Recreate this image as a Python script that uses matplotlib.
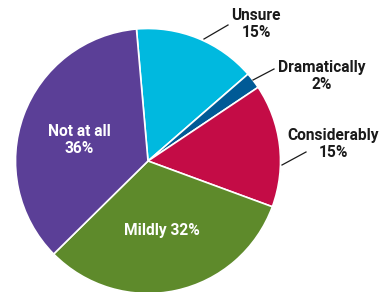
import numpy as np
import matplotlib
matplotlib.use("Agg")
from matplotlib import pyplot as plt

labels = ["Unsure", "Dramatically", "Considerably", "Mildly", "Not at all"]
values = [15, 2, 15, 32, 36]
colors = ["#00b9df", "#005a96", "#c40c46", "#5e8a2b", "#5b3f97"]

W, H = 380, 292

if __name__ == "__main__":
    plt.rcParams['font.family'] = ['Roboto', 'DejaVu Sans']
    fig = plt.figure(figsize=(W / 100, H / 100), dpi=100)
    ax = fig.add_axes([0, 0, 1, 1])

    cx, cy, r = 148, 161, 132.5
    wedges, _ = ax.pie(values, colors=colors, startangle=95, counterclock=False,
                       center=(cx, H - cy), radius=r,
                       wedgeprops=dict(edgecolor="white", linewidth=1.2))
    ax.set_xlim(0, W)
    ax.set_ylim(0, H)
    ax.set_aspect("equal")
    ax.axis("off")

    def px(x, y):
        return (x, H - y)

    fs = 11.2
    # outside labels: (text centre, line start, line end)
    outside = {
        "Unsure": ((256, 24), (204, 39), (228, 25)),
        "Dramatically": ((322, 76), (253, 80), (274, 69)),
        "Considerably": ((333, 144), (282, 165), (306, 152)),
    }
    for lab, val in zip(labels, values):
        if lab in outside:
            (tx, ty), p0, p1 = outside[lab]
            ax.plot([p0[0], p1[0]], [H - p0[1], H - p1[1]], color="#1a1a1a", lw=0.9)
            ax.text(*px(tx, ty), f"{lab}\n{val}%", ha="center", va="center",
                    fontsize=fs, fontweight="bold", color="#1a1a1a", linespacing=1.1)

    ax.text(*px(79, 140), f"{labels[4]}\n{values[4]}%", ha="center", va="center",
            fontsize=fs, fontweight="bold", color="white", linespacing=1.1)
    ax.text(*px(162, 231), f"{labels[3]} {values[3]}%", ha="center", va="center",
            fontsize=fs, fontweight="bold", color="white")

    fig.savefig("out.png", dpi=100)
